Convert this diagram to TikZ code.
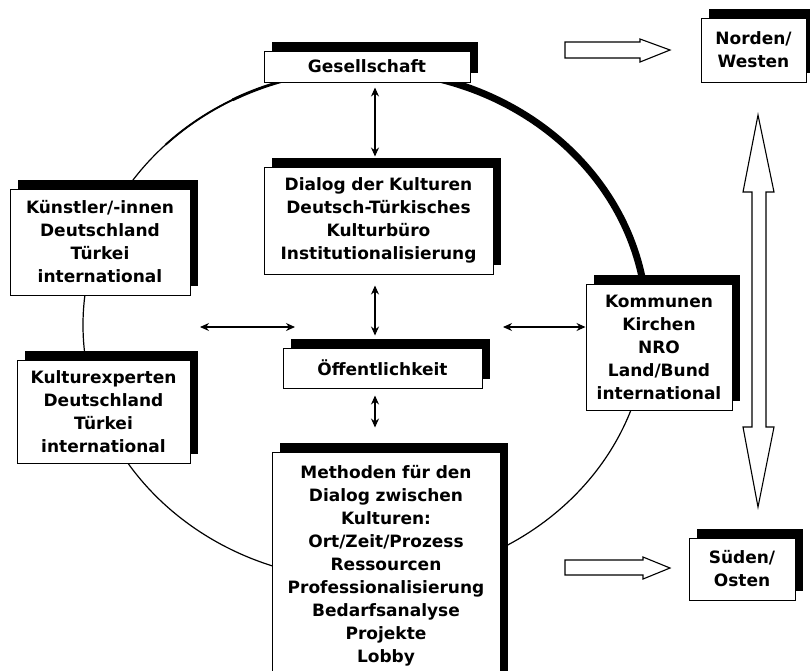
\documentclass[tikz,border=0pt]{standalone}
\usepackage{fontspec}
\setmainfont{DejaVu Sans}
\usetikzlibrary{arrows.meta,shadows}

\begin{document}
\begin{tikzpicture}[x=1pt, y=-1pt,
    block/.style={rectangle, draw, fill=white, line width=1pt, text centered, inner sep=3pt,
      font=\bfseries\fontsize{17}{23}\selectfont,
      drop shadow={shadow xshift=8pt, shadow yshift=9pt, fill=black, opacity=1}},
    arrow/.style={<->, >={Stealth[length=9pt,width=8pt]}, line width=1.1pt},
    ring/.style={line width=1.2pt},
    bigarrow/.style={draw, fill=white, line width=1.1pt, line join=miter}]

    \useasboundingbox (0,0) rectangle (810,670);

    % circle behind the boxes
    \draw[ring] (365,325) ellipse [x radius=282, y radius=255];
    \draw[line width=1.9pt] (365,325) ++(-135:282 and 255) arc [start angle=-135, end angle=-118, x radius=282, y radius=255];
    \draw[line width=2.8pt] (365,325) ++(-118:282 and 255) arc [start angle=-118, end angle=-100, x radius=282, y radius=255];
    \draw[line width=7pt] (365,325) ++(-78:282 and 255) arc [start angle=-78, end angle=-9, x radius=282, y radius=255];

    \node[block, text width=200pt, minimum height=31pt] (ges) at (367,66.5) {Gesellschaft};
    \node[block, text width=223pt, minimum height=107pt] (dialog) at (378.5,220.5)
        {Dialog der Kulturen\\Deutsch-Türkisches\\Kulturbüro\\Institutionalisierung};
    \node[block, text width=193pt, minimum height=40pt] (oeff) at (382.5,368) {Öffentlichkeit};
    \node[block, text width=222pt, minimum height=228pt] (meth) at (386,566)
        {Methoden für den\\Dialog zwischen\\Kulturen:\\Ort/Zeit/Prozess\\Ressourcen\\Professionalisierung\\Bedarfsanalyse\\Projekte\\Lobby};
    \node[block, text width=174pt, minimum height=106pt] (kuen) at (100,242)
        {Künstler/-innen\\Deutschland\\Türkei\\international};
    \node[block, text width=167pt, minimum height=103pt] (kexp) at (103.5,411.5)
        {Kulturexperten\\Deutschland\\Türkei\\international};
    \node[block, text width=140pt, minimum height=126pt] (komm) at (659,347)
        {Kommunen\\Kirchen\\NRO\\Land/Bund\\international};
    \node[block, text width=99pt, minimum height=64pt] (nord) at (753.5,50) {Norden/\\Westen};
    \node[block, text width=100pt, minimum height=62pt] (sued) at (742,569) {Süden/\\Osten};

    \coordinate (leftend) at (200,327);
    \coordinate (leftmid) at (295,327);
    \coordinate (rightend) at (503,327);

    \draw[arrow, shorten <=5pt, shorten >=10pt] ([xshift=8pt]ges.south) -- ([xshift=-3.5pt]dialog.north);
    \draw[arrow, shorten <=11pt, shorten >=12pt] ([xshift=-3.5pt]dialog.south) -- ([xshift=-7.5pt]oeff.north);
    \draw[arrow, shorten <=7pt, shorten >=24pt] ([xshift=-7.5pt]oeff.south) -- ([xshift=-11pt]meth.north);
    \draw[arrow] (leftend) -- (leftmid);
    \draw[arrow] (rightend) -- (komm.west |- rightend);

    % wide arrows
    \draw[bigarrow] (565,42) -- (640,42) -- (640,39) -- (670,50) -- (640,62) -- (640,58) -- (565,58) -- cycle;
    \draw[bigarrow] (565,560) -- (643,560) -- (643,557) -- (670,568) -- (643,579) -- (643,575) -- (565,575) -- cycle;
    \draw[bigarrow] (758,115) -- (774,192) -- (766,192) -- (766,427) -- (774,427) -- (758,507)
        -- (743,427) -- (752,427) -- (752,192) -- (743,192) -- cycle;
\end{tikzpicture}
\end{document}
